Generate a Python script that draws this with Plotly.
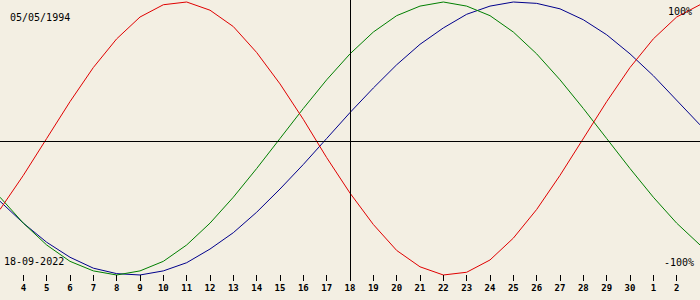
import plotly.graph_objects as go

# Days shown (3 Sep 2022 .. 3 Oct 2022)
day_labels = ["3", "4", "5", "6", "7", "8", "9", "10", "11", "12", "13", "14", "15", "16",
              "17", "18", "19", "20", "21", "22", "23", "24", "25", "26", "27", "28", "29",
              "30", "1", "2", "3"]

# Biorhythm values (-1 .. 1)
physical = [-0.52, -0.27, 0.00, 0.27, 0.52, 0.73, 0.89, 0.98, 1.00, 0.94, 0.82, 0.63, 0.40,
            0.14, -0.14, -0.40, -0.63, -0.82, -0.94, -1.00, -0.98, -0.89, -0.73, -0.52,
            -0.27, 0.00, 0.27, 0.52, 0.73, 0.89, 0.98]
emotional = [-0.43, -0.62, -0.78, -0.90, -0.97, -1.00, -0.97, -0.90, -0.78, -0.62, -0.43,
             -0.22, 0.00, 0.22, 0.43, 0.62, 0.78, 0.90, 0.97, 1.00, 0.97, 0.90, 0.78, 0.62,
             0.43, 0.22, 0.00, -0.22, -0.43, -0.62, -0.78]
intellectual = [-0.46, -0.62, -0.76, -0.87, -0.95, -0.99, -1.00, -0.97, -0.91, -0.81, -0.69,
                -0.54, -0.37, -0.19, 0.00, 0.19, 0.37, 0.54, 0.69, 0.81, 0.91, 0.97, 1.00,
                0.99, 0.95, 0.87, 0.76, 0.62, 0.46, 0.28, 0.10]

birth_date = "05/05/1994"
target_date = "18-09-2022"
target_label = "18"
top_label = "100%"
bottom_label = "-100%"

x = list(range(len(day_labels)))
tick_idx = x[1:-1]
tick_txt = day_labels[1:-1]
target_idx = tick_idx[tick_txt.index(target_label)]

W, H = 700, 300
BG = "#F3EFE3"
MONO = "DejaVu Sans Mono"
half_px = 0.5 * (len(day_labels) - 1) / W  # align the cursor line to a whole pixel column

fig = go.Figure()
fig.add_trace(go.Scatter(x=x, y=intellectual, mode="lines",
                         line=dict(color="#00008C", width=1), hoverinfo="skip"))
fig.add_trace(go.Scatter(x=x, y=emotional, mode="lines",
                         line=dict(color="#007F00", width=1), hoverinfo="skip"))
fig.add_trace(go.Scatter(x=x, y=physical, mode="lines",
                         line=dict(color="#E00000", width=1), hoverinfo="skip"))

# reference lines
fig.add_shape(type="line", xref="paper", yref="paper", x0=0, x1=1, y0=0.4964, y1=0.4964,
              line=dict(color="black", width=1))
fig.add_shape(type="line", xref="x", yref="paper", x0=target_idx + half_px,
              x1=target_idx + half_px, y0=0, y1=1,
              line=dict(color="black", width=1))

ann_font = dict(family=MONO, size=10, color="black")
fig.add_annotation(text=birth_date, xref="paper", yref="paper", x=0.012, y=0.9395,
                   xanchor="left", yanchor="middle", showarrow=False, font=ann_font)
fig.add_annotation(text=target_date, xref="paper", yref="paper", x=0.003, y=0.0694,
                   xanchor="left", yanchor="middle", showarrow=False, font=ann_font)
fig.add_annotation(text=top_label, xref="paper", yref="paper", x=0.991, y=0.959,
                   xanchor="right", yanchor="middle", showarrow=False, font=ann_font)
fig.add_annotation(text=bottom_label, xref="paper", yref="paper", x=0.994, y=0.0676,
                   xanchor="right", yanchor="middle", showarrow=False, font=ann_font)

fig.update_layout(
    width=W, height=H,
    margin=dict(l=0, r=0, t=0, b=19, pad=0),
    paper_bgcolor=BG, plot_bgcolor=BG,
    showlegend=False,
    xaxis=dict(range=[0, len(day_labels) - 1], tickmode="array", tickvals=tick_idx,
               ticktext=tick_txt, ticks="inside", ticklen=6, tickwidth=1, tickcolor="black",
               showgrid=False, zeroline=False, showline=False,
               tickfont=dict(family=MONO, size=9, color="black", weight="bold")),
    yaxis=dict(range=[-1.044, 1.0147], showgrid=False, zeroline=False, showticklabels=False,
               ticks=""),
)

fig.write_html("out.html")
